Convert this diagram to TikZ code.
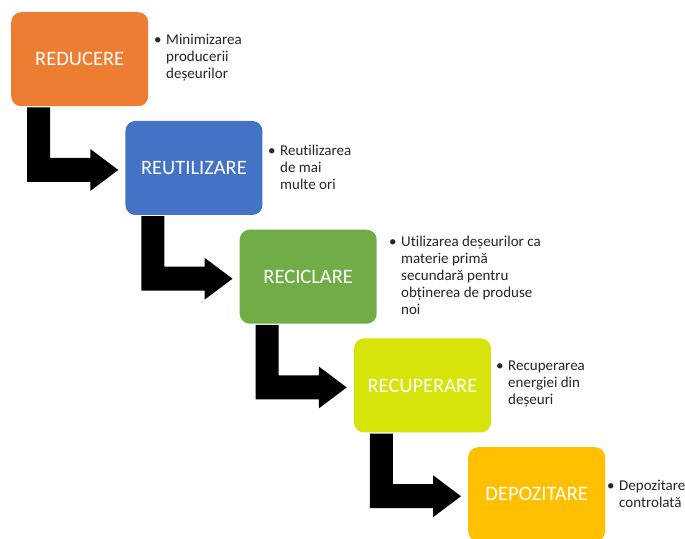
\documentclass[tikz,border=0pt]{standalone}
\usepackage{fontspec}
\setmainfont{Carlito}[Ligatures=NoCommon]
\usetikzlibrary{calc}
\definecolor{cOrange}{HTML}{ED7D31}
\definecolor{cBlue}{HTML}{4472C4}
\definecolor{cGreen}{HTML}{70AD47}
\definecolor{cLime}{HTML}{D6E40A}
\definecolor{cGold}{HTML}{FFC000}
\definecolor{cText}{HTML}{262626}
\tikzset{
  stagebox/.style={rounded corners=10pt, minimum width=137pt, minimum height=94pt,
    anchor=north west, inner sep=0pt, text=white, font=\fontsize{20.5}{24}\selectfont},
  note/.style={anchor=west, align=left, inner sep=0pt, text=cText,
    font=\fontsize{15}{17}\selectfont},
  elbow/.style={fill=black}
}
\newcommand{\bul}{\llap{•\hspace{4.5pt}}}
\newcommand{\elbowarrow}[2]{%
  \fill[elbow] let \p1=(#1.south west), \p2=(#2.west) in
    (\x1+16pt,\y1-1pt) -- (\x1+39pt,\y1-1pt) -- (\x1+39pt,\y2+10pt)
    -- (\x2-35pt,\y2+10pt) -- (\x2-35pt,\y2+19pt) -- (\x2-7pt,\y2-2pt)
    -- (\x2-35pt,\y2-23pt) -- (\x2-35pt,\y2-14pt) -- (\x1+16pt,\y2-14pt) -- cycle;}
\begin{document}
\begin{tikzpicture}[x=1pt,y=-1pt]
\useasboundingbox (0,0) rectangle (685,538);
\clip (0,0) rectangle (685,538);
\fill[white] (0,0) rectangle (685,538);

\node[stagebox, fill=cOrange] (b1) at (11,12) {REDUCERE};
\node[stagebox, fill=cBlue] (b2) at (125.25,120.75) {REUTILIZARE};
\node[stagebox, fill=cGreen] (b3) at (239.5,229.5) {RECICLARE};
\node[stagebox, fill=cLime] (b4) at (353.75,338.25) {RECUPERARE};
\node[stagebox, fill=cGold] (b5) at (468,447) {DEPOZITARE};

\node[note] (t1) at (166,58) {\bul Minimizarea\\producerii\\deșeurilor};
\node[note] (t2) at (280,167) {\bul Reutilizarea\\de mai\\multe ori};
\node[note] (t3) at (401,275.5) {\bul Utilizarea deșeurilor ca\\materie primă\\secundară pentru\\obținerea de produse\\noi};
\node[note] (t4) at (508,384) {\bul Recuperarea\\energiei din\\deșeuri};
\node[note] (t5) at (619,493.5) {\bul Depozitare\\controlată};

\elbowarrow{b1}{b2}
\elbowarrow{b2}{b3}
\elbowarrow{b3}{b4}
\elbowarrow{b4}{b5}
\end{tikzpicture}
\end{document}
